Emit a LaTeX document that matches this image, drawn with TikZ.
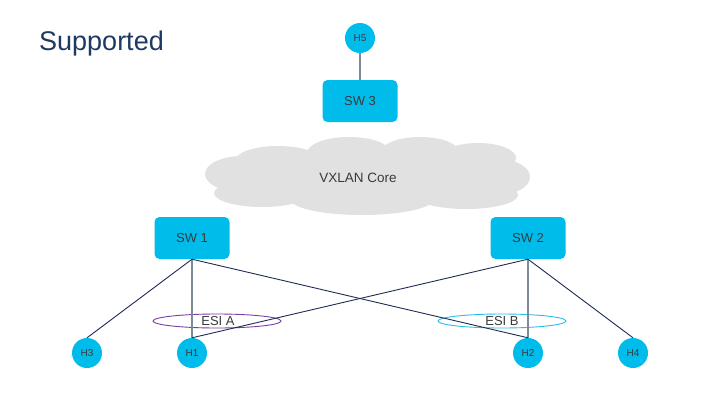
\documentclass[tikz,border=0pt]{standalone}
\usepackage{fontspec}
\setmainfont{Liberation Sans}
\usetikzlibrary{shapes.geometric}
\definecolor{swcyan}{HTML}{00BCEB}
\definecolor{txtgray}{HTML}{3A3A3C}
\definecolor{navy}{HTML}{1F2D55}
\definecolor{titlenavy}{HTML}{1E3A62}
\definecolor{linkgray}{HTML}{7D8A99}
\definecolor{cloudgray}{HTML}{E1E1E1}
\definecolor{esipurple}{HTML}{7A3FA6}
\definecolor{esicyan}{HTML}{2BBDEA}
\tikzset{
  switchbox/.style={rectangle, rounded corners=5pt, fill=swcyan, draw=none,
    minimum width=75pt, minimum height=42pt, text=txtgray, font=\fontsize{13}{15}\selectfont},
  hostdot/.style={circle, fill=swcyan, draw=none, minimum size=30pt, inner sep=0pt,
    text=txtgray, font=\fontsize{10}{11}\selectfont},
  uplink/.style={draw=linkgray, line width=1.5pt},
  crosslink/.style={draw=navy, line width=0.9pt},
  esiring/.style={ellipse, draw, line width=0.9pt, minimum width=128pt, minimum height=14pt, inner sep=0pt},
  esilabel/.style={text=txtgray, font=\fontsize{13}{15}\selectfont},
  puff/.style={fill=cloudgray, draw=none}
}
\begin{document}
\begin{tikzpicture}[x=1pt, y=-1pt]
\useasboundingbox (0,0) rectangle (720,405);
\fill[white] (0,0) rectangle (720,405);

% title
\node[anchor=base west, text=titlenavy, font=\fontsize{27}{32}\selectfont, inner sep=0pt] (title) at (39,50) {Supported};

% VXLAN core cloud
\fill[puff] (365,178) ellipse (142 and 27);
\fill[puff] (242,174) ellipse (37 and 18);
\fill[puff] (278,160) ellipse (42 and 14);
\fill[puff] (349,153) ellipse (42 and 16);
\fill[puff] (420,151) ellipse (38 and 14);
\fill[puff] (478,158) ellipse (38 and 15);
\fill[puff] (498,177) ellipse (32 and 18);
\fill[puff] (262,193) ellipse (48 and 14);
\fill[puff] (362,199) ellipse (72 and 16);
\fill[puff] (466,195) ellipse (52 and 14);
\node[text=txtgray, font=\fontsize{13.5}{16}\selectfont] (core) at (358,178) {VXLAN Core};

% switches
\node[switchbox] (sw3) at (360,101) {SW 3};
\node[switchbox] (sw1) at (192,238) {SW 1};
\node[switchbox] (sw2) at (528,238) {SW 2};

% hosts
\node[hostdot] (h5) at (360,38) {H5};
\node[hostdot] (h3) at (87,353) {H3};
\node[hostdot] (h1) at (192,353) {H1};
\node[hostdot] (h2) at (528,353) {H2};
\node[hostdot] (h4) at (633,353) {H4};

% ESI rings
\node[esiring, draw=esipurple] (esia) at (217,321) {};
\node[esiring, draw=esicyan] (esib) at (502,321) {};

% links
\draw[uplink] (h5.south) -- (sw3.north);
\draw[uplink] (sw1.south) -- (h1.north);
\draw[uplink] (sw2.south) -- (h2.north);
\draw[crosslink] (sw1.south) -- (h3.north);
\draw[crosslink] (sw1.south) -- (h2.north);
\draw[crosslink] (sw2.south) -- (h1.north);
\draw[crosslink] (sw2.south) -- (h4.north);

% ESI labels
\node[esilabel] (esialabel) at (218,321) {ESI A};
\node[esilabel] (esiblabel) at (502,321) {ESI B};
\end{tikzpicture}
\end{document}
